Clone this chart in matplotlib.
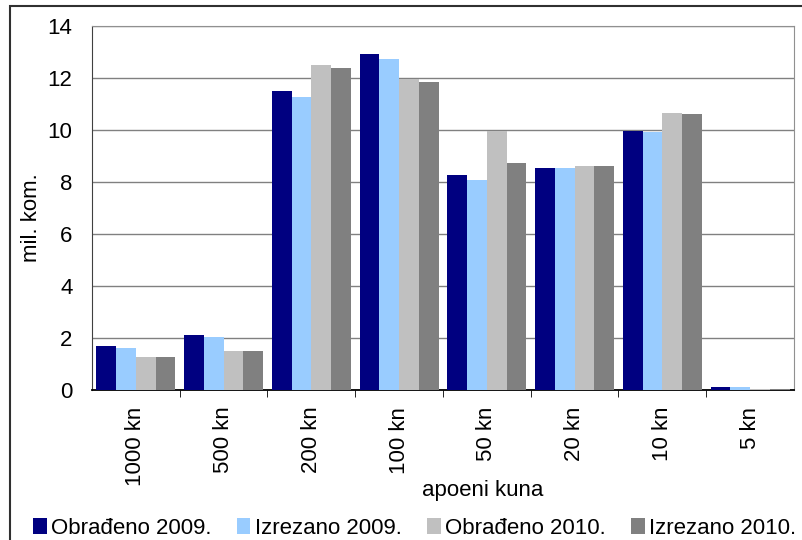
import numpy as np
import matplotlib
matplotlib.use("Agg")
import matplotlib.pyplot as plt
from matplotlib.patches import Rectangle

plt.rcParams["font.family"] = ["Liberation Sans", "DejaVu Sans"]

apoeni = ["1000 kn", "500 kn", "200 kn", "100 kn", "50 kn", "20 kn", "10 kn", "5 kn"]
obradeno_2009 = [1.70, 2.12, 11.50, 12.92, 8.27, 8.54, 9.96, 0.12]
izrezano_2009 = [1.62, 2.04, 11.27, 12.73, 8.08, 8.54, 9.92, 0.10]
obradeno_2010 = [1.27, 1.50, 12.50, 11.96, 9.96, 8.62, 10.65, 0.04]
izrezano_2010 = [1.27, 1.50, 12.38, 11.85, 8.73, 8.62, 10.62, 0.05]

series = [
    ("Obrađeno 2009.", obradeno_2009, "#000080"),
    ("Izrezano 2009.", izrezano_2009, "#99CCFF"),
    ("Obrađeno 2010.", obradeno_2010, "#C0C0C0"),
    ("Izrezano 2010.", izrezano_2010, "#808080"),
]

fs = 16

fig = plt.figure(figsize=(8.03, 5.40), dpi=100)
ax = fig.add_axes([92 / 803, 1 - 390 / 540, (794 - 92) / 803, (390 - 26) / 540])

x = np.arange(len(apoeni))
width = 0.225
for i, (name, vals, col) in enumerate(series):
    ax.bar(x - 1.5 * width + i * width, vals, width, color=col, label=name, zorder=3)

ax.set_xlim(-0.5, len(apoeni) - 0.5)
ax.set_ylim(0, 14)
ax.set_yticks(range(0, 15, 2))
ax.grid(axis="y", color="#808080", lw=1, zorder=0)
ax.set_xticks(x)
ax.set_xticklabels(apoeni, rotation=90, fontsize=fs)
ax.tick_params(axis="x", length=0, pad=12)
ax.set_xticks(np.arange(0.5, len(apoeni) - 0.5, 1), minor=True)
ax.tick_params(axis="x", which="minor", length=5, direction="out", color="black")
ax.tick_params(axis="y", length=0, labelsize=fs, pad=14)
ax.set_ylabel("mil. kom.", fontsize=fs)
ax.yaxis.set_label_coords(-0.071, 0.473)
ax.set_xlabel("apoeni kuna", fontsize=fs)
ax.xaxis.set_label_coords(0.557, -0.248)

for s in ["top", "right"]:
    ax.spines[s].set_color("#909090")
ax.spines["left"].set_color("#404040")
ax.spines["bottom"].set_color("black")
ax.spines["bottom"].set_linewidth(1.3)

fig.legend(loc="lower left", bbox_to_anchor=(20 / 803, -0.022), ncol=4, frameon=False,
           fontsize=fs, handlelength=0.6, handleheight=0.7, handletextpad=0.2,
           columnspacing=1.15, borderaxespad=0.2)

fig.patches.append(Rectangle((10 / 803, -0.1), 1.2, 1.1 - 6 / 540, transform=fig.transFigure,
                             fill=False, edgecolor="#303030", lw=1.5))

fig.savefig("out.png", dpi=100)
